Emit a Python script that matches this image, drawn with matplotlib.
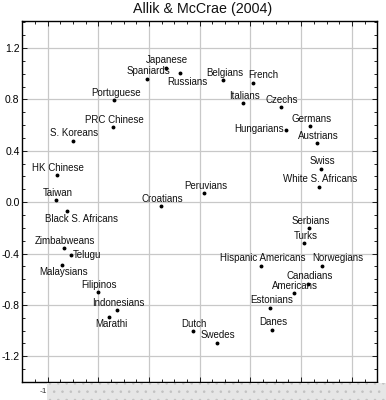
import matplotlib
matplotlib.use('Agg')
import matplotlib.pyplot as plt
from matplotlib.patches import Rectangle
from matplotlib.ticker import MultipleLocator, FixedLocator

plt.rcParams['font.family'] = ['Liberation Sans', 'DejaVu Sans']
plt.rcParams['hatch.linewidth'] = 0.6

# country positions
names = ['Japanese', 'Spaniards', 'Russians', 'Belgians', 'French', 'Portuguese',
         'Italians', 'Czechs', 'PRC Chinese', 'Germans', 'Hungarians', 'Austrians',
         'S. Koreans', 'Swiss', 'HK Chinese', 'White S. Africans', 'Peruvians',
         'Taiwan', 'Croatians', 'Black S. Africans', 'Serbians', 'Turks',
         'Zimbabweans', 'Telugu', 'Malaysians', 'Hispanic Americans', 'Norwegians',
         'Canadians', 'Americans', 'Estonians', 'Filipinos', 'Indonesians',
         'Marathi', 'Dutch', 'Danes', 'Swedes']
xs = [-0.069, -0.219, 0.044, 0.385, 0.622, -0.475,
      0.541, 0.838, -0.487, 1.073, 0.878, 1.125,
      -0.803, 1.156, -0.927, 1.140, 0.233,
      -0.935, -0.104, -0.845, 1.062, 1.022,
      -0.874, -0.816, -0.890, 0.687, 1.166,
      1.056, 0.943, 0.756, -0.603, -0.451,
      -0.516, 0.144, 0.772, 0.333]
ys = [1.045, 0.960, 1.006, 0.949, 0.928, 0.794,
      0.768, 0.739, 0.584, 0.591, 0.560, 0.459,
      0.477, 0.259, 0.208, 0.119, 0.068,
      0.016, -0.031, -0.070, -0.205, -0.319,
      -0.360, -0.412, -0.490, -0.494, -0.496,
      -0.634, -0.711, -0.823, -0.703, -0.843,
      -0.893, -1.004, -0.994, -1.095]

yticks = [-1.2, -0.8, -0.4, 0.0, 0.4, 0.8, 1.2]
xticks = [-1.0, -0.6, -0.2, 0.2, 0.6, 1.0, 1.4]

# label placement in pixels (default: centered just above the dot)
offsets = {'Russians': (7, -9, 'center'), 'French': (10, 8, 'center'),
           'Hungarians': (-2, 1, 'right'), 'Black S. Africans': (14, -8, 'center'),
           'Telugu': (2, 0, 'left'), 'Malaysians': (2, -7, 'center'),
           'Norwegians': (16, 8, 'center'), 'Marathi': (2, -7, 'center')}

fig = plt.figure(figsize=(3.86, 4.0), dpi=100)
ax = fig.add_axes([21.7 / 386, 18 / 400, 355 / 386, 361 / 400])

ax.plot(xs, ys, 'o', color='black', markersize=1.8, zorder=3)
for n, x, y in zip(names, xs, ys):
    dx, dy, ha = offsets.get(n, (1.5, 7.5, 'center'))
    ax.annotate(n, (x, y), xytext=(dx, dy), textcoords='offset pixels',
                ha=ha, va='center', fontsize=7, color='#111111')

ax.set_xlim(-1.205, 1.596)
ax.set_ylim(-1.40, 1.41)
ax.xaxis.set_major_locator(FixedLocator(xticks))
ax.yaxis.set_major_locator(FixedLocator(yticks))
ax.xaxis.set_minor_locator(MultipleLocator(0.1))
ax.yaxis.set_minor_locator(MultipleLocator(0.1))
ax.set_yticklabels(['%.1f' % t for t in yticks])
ax.set_xticklabels([])
ax.grid(True, color='#c8c8c8', linewidth=0.9)
ax.set_axisbelow(True)
ax.tick_params(which='both', direction='in', top=True, right=True,
               labelsize=7.5, pad=1.5, width=0.6)
ax.tick_params(which='major', length=3.5)
ax.tick_params(which='minor', length=2)
for s in ax.spines.values():
    s.set_linewidth(1.0)

# grey stippled strip covering the x labels
fig.patches.append(Rectangle((47 / 386, 0), 1, 17 / 400, transform=fig.transFigure,
                             facecolor='#e6e6e6', edgecolor='#c2c2c2', hatch='..',
                             linewidth=0, zorder=5))
fig.text(47.5 / 386, 8.5 / 400, '-1', ha='right', va='center', fontsize=6,
         color='#333333')

fig.text(202.5 / 386, 1 - 9 / 400, 'Allik & McCrae (2004)', ha='center', va='center',
         fontsize=10.3, color='#111111')

plt.savefig('out.png', dpi=100)
